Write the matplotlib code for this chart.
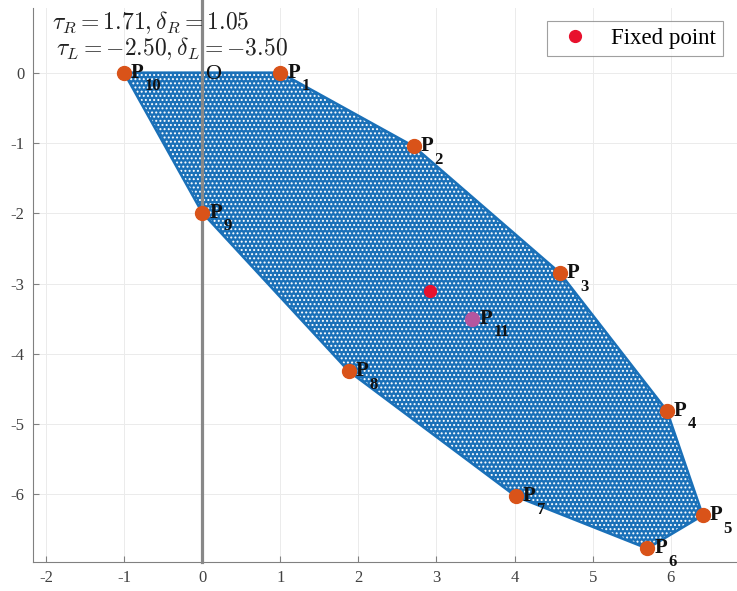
import numpy as np
import matplotlib.pyplot as plt
from matplotlib.patches import Polygon

plt.rcParams['font.family'] = 'Liberation Serif'
plt.rcParams['mathtext.fontset'] = 'cm'
plt.rcParams['axes.unicode_minus'] = False
plt.rcParams['hatch.linewidth'] = 0.9

# orbit vertices P1..P10 (boundary of the region)
px = [1.00, 2.71, 4.58, 5.95, 6.41, 5.70, 4.02, 1.88, 0.00, -1.00]
py = [0.00, -1.05, -2.85, -4.81, -6.30, -6.77, -6.03, -4.25, -1.99, 0.00]
labels = ['1', '2', '3', '4', '5', '6', '7', '8', '9', '10']

# interior point P11 and the fixed point
p11 = (3.46, -3.50)
fixed_pt = (2.92, -3.10)

tau_R, delta_R = 1.71, 1.05
tau_L, delta_L = -2.50, -3.50

blue = '#1a70b8'
orange = '#D95319'

fig = plt.figure(figsize=(7.37, 5.91), dpi=100)
ax = fig.add_axes([0.0448, 0.0491, 0.9552, 0.9374])

verts = np.column_stack([px, py])
ax.add_patch(Polygon(verts, closed=True, facecolor=blue, edgecolor='none', zorder=2))
ax.add_patch(Polygon(verts, closed=True, facecolor='none', edgecolor='white',
                     hatch='....', linewidth=0, zorder=2.1))
ax.plot(px + [px[0]], py + [py[0]], color=blue, lw=1.9, zorder=2.2)

# switching line x = 0
ax.plot([0, 0], [-6.963, 1.05], color='#888888', lw=2.3, zorder=3, clip_on=False)

ax.plot(px, py, 'o', color=orange, ms=10, zorder=4)
ax.plot(p11[0], p11[1], 'o', color='#b4569f', ms=10, zorder=4)
ax.plot(fixed_pt[0], fixed_pt[1], 'o', color='#e8112d', ms=8.5, zorder=5,
        label='Fixed point', linestyle='none')

def plabel(x, y, sub):
    ax.annotate('P', (x, y), xytext=(5, 0), textcoords='offset points',
                ha='left', va='center', fontsize=15, fontweight='bold',
                color='#111111', zorder=6)
    ax.annotate(sub, (x, y), xytext=(15, -4), textcoords='offset points',
                ha='left', va='top', fontsize=12, fontweight='bold',
                color='#111111', zorder=6)

for x, y, s in zip(px, py, labels):
    plabel(x, y, s)
plabel(p11[0], p11[1], '11')

ax.text(0.14, -0.03, 'O', fontsize=16, ha='center', va='center', color='#111111', zorder=6)

ax.text(-1.93, 0.71, r'$\tau_R = %.2f, \delta_R = %.2f$' % (tau_R, delta_R),
        fontsize=17, ha='left', va='center', color='#222222', zorder=6)
ax.text(-1.87, 0.34, r'$\tau_L = %.2f, \delta_L = %.2f$' % (tau_L, delta_L),
        fontsize=17, ha='left', va='center', color='#222222', zorder=6)

ax.set_xlim(-2.167, 6.849)
ax.set_ylim(-6.963, 0.921)
ax.set_xticks(np.arange(-2, 7))
ax.set_yticks(np.arange(-6, 1))
ax.grid(True, color='#ebebeb', lw=0.7, zorder=0)
ax.set_axisbelow(True)
for side in ['top', 'right']:
    ax.spines[side].set_visible(False)
for side in ['left', 'bottom']:
    ax.spines[side].set_color('#808080')
    ax.spines[side].set_linewidth(0.8)
ax.tick_params(direction='in', length=4, color='#808080', labelsize=12,
               labelcolor='#404040', pad=6)

leg = ax.legend(loc='upper right', bbox_to_anchor=(0.981, 0.9645),
                bbox_transform=fig.transFigure, fontsize=16.5, frameon=True,
                fancybox=False, edgecolor='#888888', borderpad=0.3,
                borderaxespad=0, handletextpad=0.7, handlelength=1.8)
leg.get_frame().set_linewidth(0.8)

fig.savefig('out.png', dpi=100)
